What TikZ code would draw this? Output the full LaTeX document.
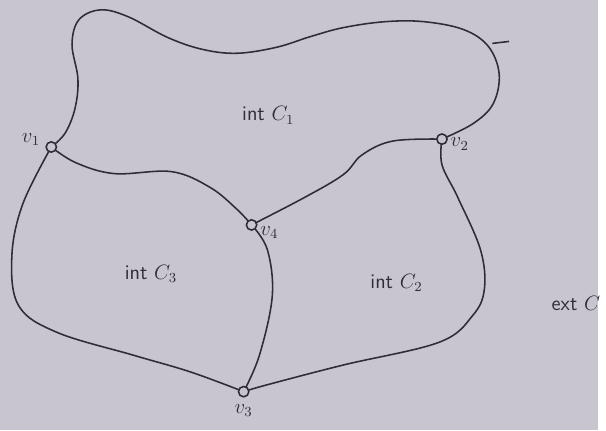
\documentclass[tikz,border=0pt]{standalone}
\usepackage{amsmath}
\usetikzlibrary{positioning}
\definecolor{paper}{RGB}{201,197,207}
\definecolor{ink}{RGB}{48,44,54}

\begin{document}
\begin{tikzpicture}[x=0.02cm,y=-0.02cm,
    node distance=1mm,
    edge/.style={draw=ink,line width=0.9pt},
    vertex/.style={circle,draw=ink,fill=paper,line width=0.9pt,
      inner sep=0pt,minimum size=0.21cm},
    vlabel/.style={text=ink,font=\large,inner sep=1pt},
    region/.style={text=ink,font=\large\sffamily}
  ]
    \fill[paper] (0,0) rectangle (606,436);
    % vertex positions
    \coordinate (p1) at (52,149);
    \coordinate (p2) at (448,141);
    \coordinate (p3) at (247,397);
    \coordinate (p4) at (255,228);
    % outer curve C1
    \draw[edge] plot[smooth,tension=0.6] coordinates {(p1) (66,135) (76,110) (79,80)
      (73,45) (80,20) (102,10) (130,17) (170,38) (205,50) (240,54) (280,48)
      (315,37) (348,28) (390,22) (430,22) (470,30) (495,47) (506,75) (500,105)
      (480,125) (p2)};
    \draw[edge] plot[smooth,tension=0.6] coordinates {(p1) (77,165) (116,176)
      (174,174) (213,190) (240,212) (p4)};
    \draw[edge] plot[smooth,tension=0.6] coordinates {(p4) (309,200) (348,177)
      (367,157) (398,143) (p2)};
    \draw[edge] plot[smooth,tension=0.6] coordinates {(p4) (271,253) (276,300)
      (263,360) (p3)};
    \draw[edge] plot[smooth,tension=0.6] coordinates {(p1) (23,207) (12,260)
      (19,310) (58,337) (135,360) (193,377) (p3)};
    \draw[edge] plot[smooth,tension=0.6] coordinates {(p2) (448,167) (464,200)
      (487,253) (491,293) (479,320) (445,347) (348,370) (271,390) (p3)};
    \coordinate (t1) at (499,44);
    \coordinate (t2) at (516,42);
    \draw[edge] (t1) -- (t2);
    % vertices
    \node[vertex] (v1) at (p1) {};
    \node[vertex] (v2) at (p2) {};
    \node[vertex] (v3) at (p3) {};
    \node[vertex] (v4) at (p4) {};
    \node[vlabel,above left=-1mm and 1mm of v1] (l1) {$v_1$};
    \node[vlabel,below right=-1.5mm and 0.5mm of v2] (l2) {$v_2$};
    \node[vlabel,below right=-1mm and 0.5mm of v4] (l4) {$v_4$};
    \node[vlabel,below=of v3] (l3) {$v_3$};
    % regions
    \node[region] (c1) at (272,117) {int $C_1$};
    \node[region] (c3) at (153,278) {int $C_3$};
    \node[region] (c2) at (402,287) {int $C_2$};
    \node[region,anchor=west] (ext) at (553,308) {ext $C$};
\end{tikzpicture}
\end{document}
